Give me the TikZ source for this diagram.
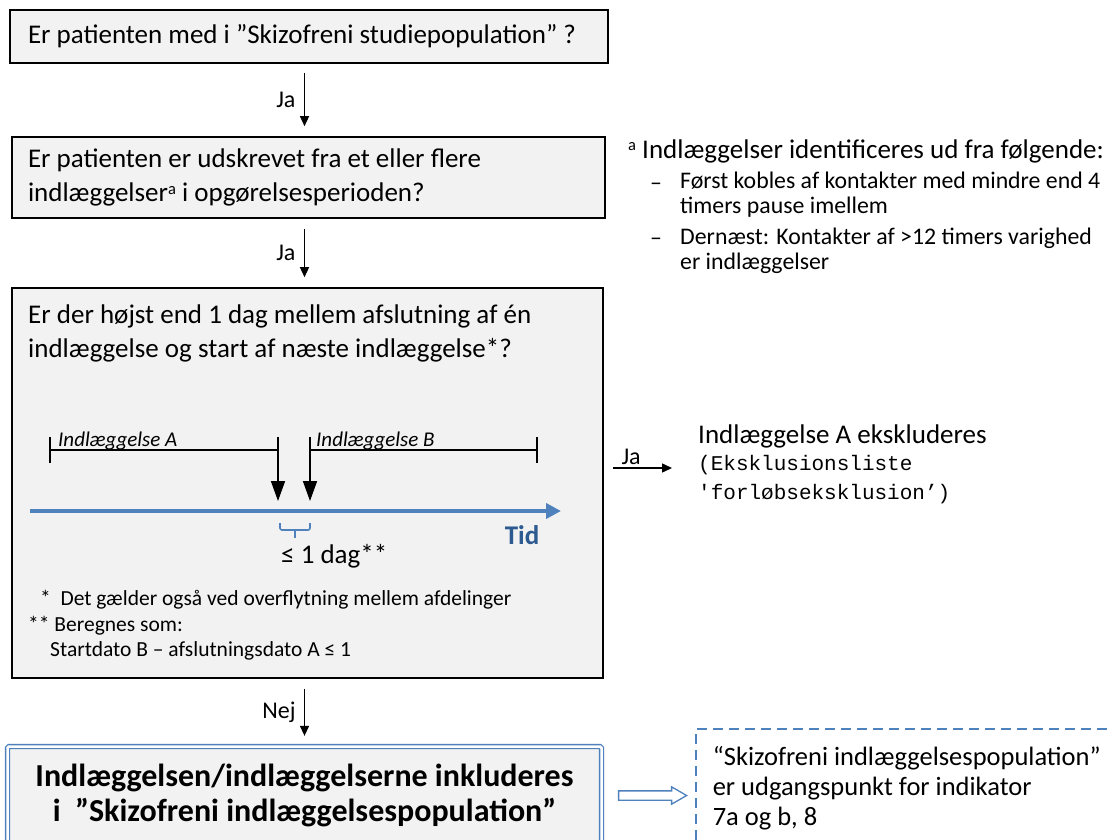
\documentclass[tikz,border=0pt]{standalone}
\usepackage{fontspec}
\setmainfont{Carlito}
\setmonofont{Liberation Mono}
\usetikzlibrary{arrows.meta,shapes.arrows,calc}
\definecolor{boxgray}{HTML}{F2F2F2}
\definecolor{accent}{HTML}{4F81BD}
\definecolor{tidblue}{HTML}{2C5A91}
\newcommand\FsMain{\fontsize{27}{34}\selectfont}
\newcommand\FsBul{\fontsize{23.8}{25}\selectfont}
\newcommand\FsSmall{\fontsize{21}{26}\selectfont}
\newcommand\FsFoot{\fontsize{21.5}{26}\selectfont}
\newcommand\FsLbl{\fontsize{24}{28}\selectfont}
\newcommand\FsMono{\fontsize{21}{30}\selectfont}
\newcommand\FsBig{\fontsize{32}{35}\selectfont}
\newcommand\FsNote{\fontsize{26.5}{30}\selectfont}
\newcommand\supA{{\fontsize{16.5}{16}\selectfont\raisebox{7.5pt}{a}}}
\begin{document}
\begin{tikzpicture}[x=1pt, y=-1pt,
  qbox/.style={draw=black, line width=1.6pt, fill=boxgray, inner xsep=18pt, inner ysep=0pt, align=flush left, font=\FsMain},
  flow/.style={line width=1.4pt, -{Triangle[width=9pt,length=10pt]}},
  tickline/.style={line width=1.6pt},
  drop/.style={line width=1.6pt, -{Triangle[width=14pt,length=20pt]}},
  lbl/.style={font=\FsLbl, midway, left=5pt},
  finalbox/.style={draw=accent, line width=1.3pt, double=white, double distance=2.5pt, fill=boxgray, rounded corners=1.5pt, font=\FsBig\bfseries, align=center},
  dashbox/.style={draw=accent, line width=1.5pt, dash pattern=on 10pt off 6pt, anchor=north west, font=\FsNote, align=flush left, inner xsep=17pt, inner ysep=0pt},
  plain/.style={inner sep=0pt, anchor=west},
  bdash/.style={inner sep=0pt, anchor=base west, font=\FsBul}
]
\useasboundingbox (0,0) rectangle (1113,840);
\clip (0,0) rectangle (1113,840);

% main boxes
\node[qbox, minimum width=598pt, minimum height=53pt, text width=562pt] (b1) at (309,36.5)
  {Er patienten med i ”Skizofreni studiepopulation” ?};
\node[qbox, inner xsep=16pt, minimum width=593pt, minimum height=81pt, text width=561pt] (b2) at (308.5,177.5)
  {Er patienten er udskrevet fra et eller flere\\indlæggelser\supA{} i opgørelsesperioden?};
\node[qbox, minimum width=591pt, minimum height=390pt] (b3) at (307.5,483) {};
\node[finalbox, minimum width=594pt, minimum height=98pt] (b4) at (304.5,795.5)
  {Indlæggelsen/indlæggelserne inkluderes\\i\ \ ”Skizofreni indlæggelsespopulation”};

% box 3 content
\node[plain, font=\FsMain, align=left] (q3) at (28,333)
  {Er der højst end 1 dag mellem afslutning af én\\indlæggelse og start af næste indlæggelse*?};
\coordinate (aS) at (50,450);
\coordinate (aE) at (278,450);
\coordinate (bS) at (310,450);
\coordinate (bE) at (537,450);
\draw[tickline] ($(aS)+(0,-13)$) -- ($(aS)+(0,13)$);
\draw[tickline] ($(bE)+(0,-13)$) -- ($(bE)+(0,13)$);
\draw[tickline] (aS) -- (aE);
\draw[tickline] (bS) -- (bE);
\draw[drop] ($(aE)+(0,-13)$) -- ($(aE)+(0,51)$);
\draw[drop] ($(bS)+(0,-13)$) -- ($(bS)+(0,51)$);
\node[inner sep=0pt, anchor=base west, font=\FsSmall\itshape] (la) at (58,446) {Indlæggelse A};
\node[inner sep=0pt, anchor=base west, font=\FsSmall\itshape] (lb) at (316,446) {Indlæggelse B};
\coordinate (t0) at (30,511);
\coordinate (t1) at (561,511);
\draw[accent, line width=4pt, -{Triangle[width=15pt,length=15pt]}] (t0) -- (t1);
\node[font=\FsMain\bfseries, text=tidblue, inner sep=0pt] (tid) at (522,535) {Tid};
\draw[accent, line width=1.6pt, rounded corners=2pt] (280,523) -- (280,530) -- (310,530) -- (310,523);
\draw[accent, line width=1.6pt] (295,530) -- (295,538);
\node[plain, font=\FsMain] (dag) at (281,556) {≤ 1 dag**};
\node[plain, font=\FsFoot] (n1) at (40,600) {*\ \ Det gælder også ved overflytning mellem afdelinger};
\node[plain, font=\FsFoot] (n2) at (28,626) {** Beregnes som:};
\node[plain, font=\FsFoot] (n3) at (50,651) {Startdato B – afslutningsdato A ≤ 1};

% footnote a
\node[plain, font=\FsMain] (fna) at (628,151) {\supA{} Indlæggelser identificeres ud fra følgende:};
\node[bdash] (d1) at (650,190) {–};
\node[plain, font=\FsBul, align=left] (f1) at (680,195) {Først kobles af kontakter med mindre end 4\\timers pause imellem};
\node[bdash] (d2) at (650,245) {–};
\node[plain, font=\FsBul, align=left] (f2) at (680,250.5) {Dernæst: Kontakter af >12 timers varighed\\er indlæggelser};

% exclusion
\node[plain, font=\FsMain] (excl) at (698,436) {Indlæggelse A ekskluderes};
\node[plain, font=\FsMono\ttfamily] (excl2) at (698,465) {(Eksklusionsliste};
\node[plain, font=\FsMono\ttfamily] (excl3) at (698,494) {'forløbseksklusion’)};
\coordinate (jaend) at (672,468);
\draw[flow, shorten <=9pt] (b3.east |- jaend) -- node[pos=0.4, above=3pt, font=\FsLbl, inner sep=0pt]{Ja} (jaend);

% dashed note
\node[dashbox, minimum width=450pt, minimum height=119pt, text width=416pt] (ind) at (695,728)
  {“Skizofreni indlæggelsespopulation”\\er udgangspunkt for indikator\\7a og b, 8};
\node[single arrow, draw=accent, line width=1.3pt, fill=white, minimum height=68pt, minimum width=16pt,
      inner sep=4pt, single arrow head extend=4pt, single arrow tip angle=60] (conn)
  at ($(b4.east)!0.5!(b4.east -| ind.west)$) {};

% flow arrows
\draw[flow, shorten <=9pt, shorten >=10pt] (b1.south -| b4.north) -- node[lbl]{Ja} (b2.north -| b4.north);
\draw[flow, shorten <=10pt, shorten >=10pt] (b2.south -| b4.north) -- node[lbl]{Ja} (b3.north -| b4.north);
\draw[flow, shorten <=10pt, shorten >=10pt] (b3.south -| b4.north) -- node[lbl]{Nej} (b4.north);
\end{tikzpicture}
\end{document}
